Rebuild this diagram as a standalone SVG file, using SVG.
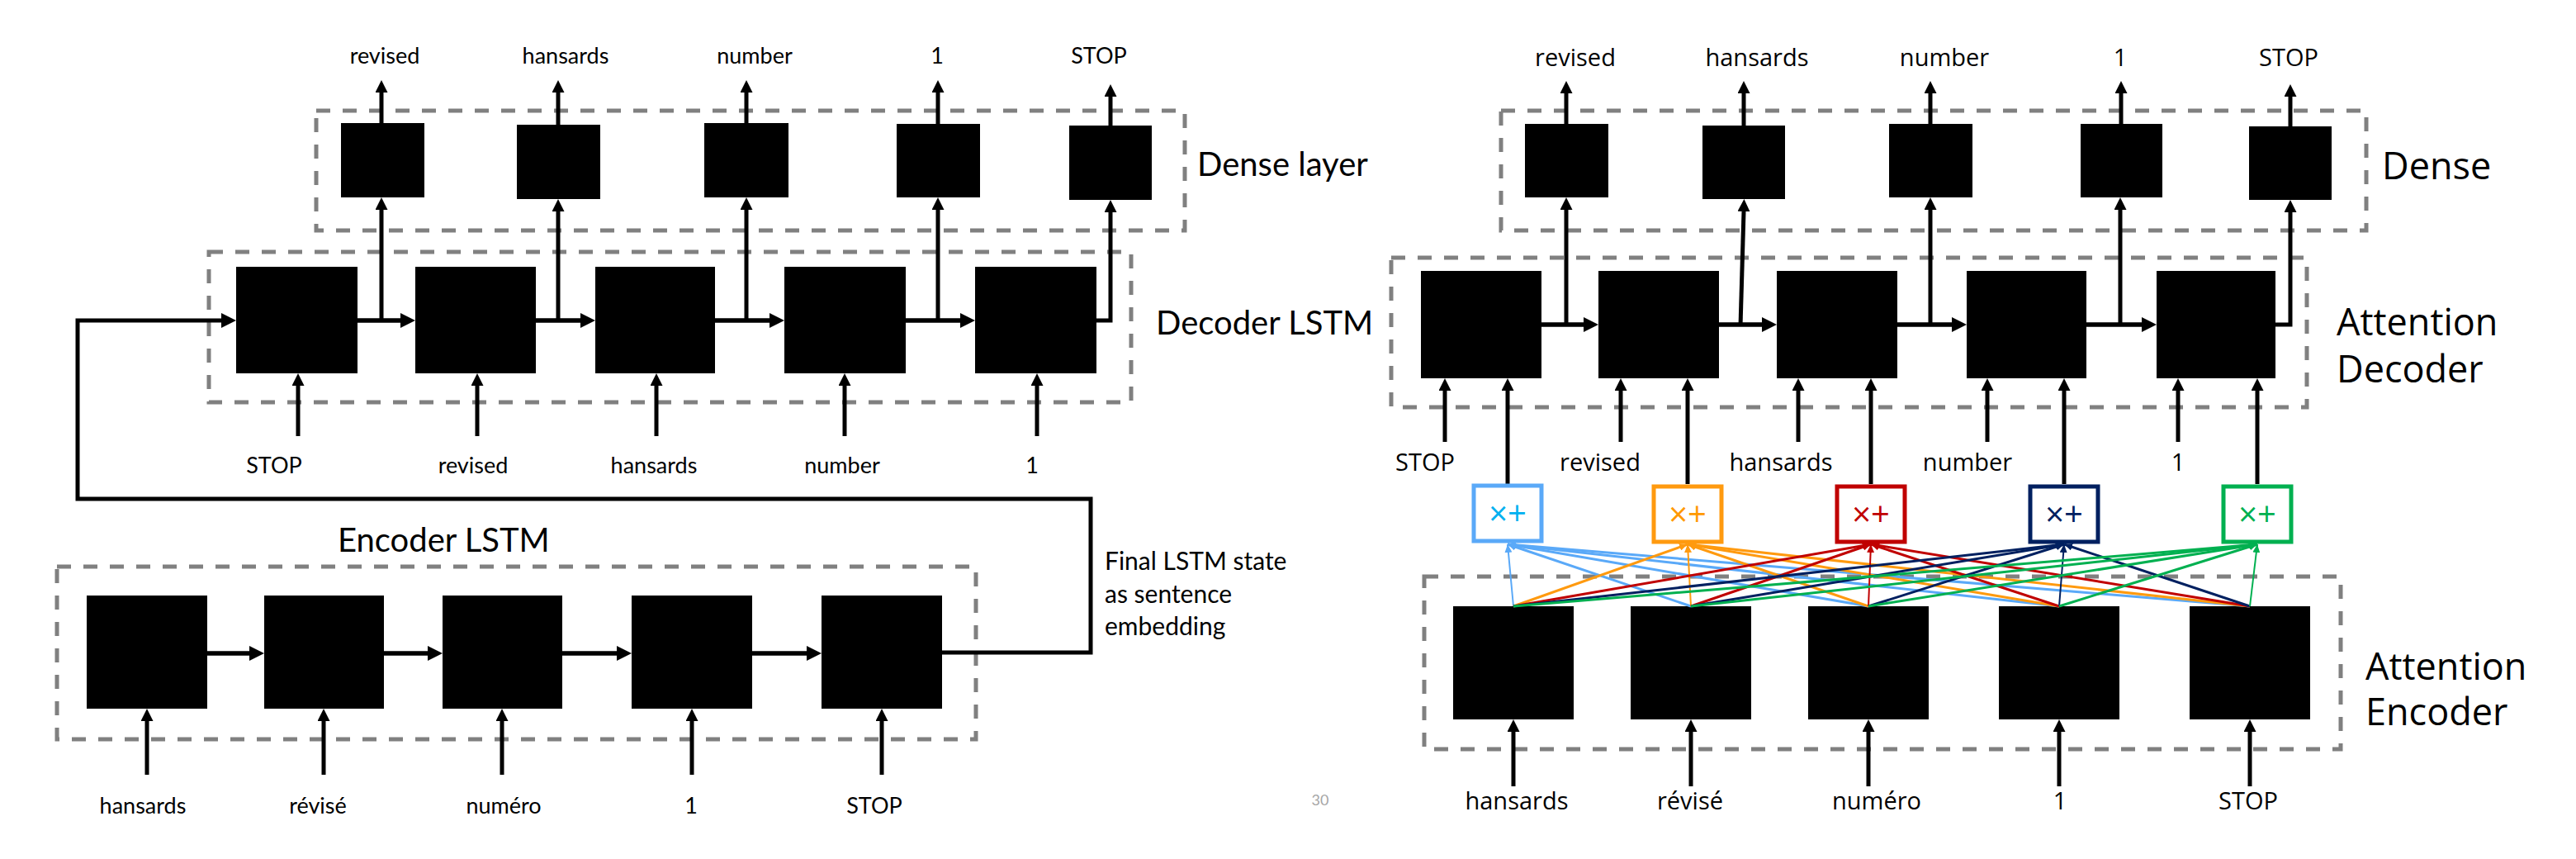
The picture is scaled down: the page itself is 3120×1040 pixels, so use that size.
<svg xmlns="http://www.w3.org/2000/svg" width="3120" height="1040" viewBox="0 0 3120 1040">
<style>
.blk{fill:#000}
.grp{fill:none;stroke:#808080;stroke-width:5;stroke-dasharray:17 15}
.ln{stroke:#000;stroke-width:5;fill:none}
.thk{stroke:#000;stroke-width:5.5;fill:none}
.ls{font-family:Lato,"Open Sans",sans-serif;font-size:27px;fill:#000;text-anchor:middle}
.lb{font-family:Lato,"Open Sans",sans-serif;font-size:40px;fill:#000}
.note{font-family:Lato,"Open Sans",sans-serif;font-size:30px;fill:#000}
.rs{font-family:"Open Sans",sans-serif;font-size:29px;fill:#000;text-anchor:middle}
.rb{font-family:"Open Sans",sans-serif;font-size:45px;fill:#000}
.att{fill:#fff;stroke-width:5}
.op{font-family:"Open Sans",sans-serif;font-size:40px;text-anchor:middle}
.pg{font-family:Lato,"Open Sans",sans-serif;font-size:18px;fill:#A6A6A6;text-anchor:middle}
</style>
<defs>
<marker id="va" markerUnits="userSpaceOnUse" markerWidth="15" markerHeight="15" refX="0" refY="7.5" orient="auto"><path d="M0,0 L15,7.5 L0,15 z" fill="#000"/></marker>
<marker id="ha" markerUnits="userSpaceOnUse" markerWidth="18" markerHeight="18" refX="0" refY="9" orient="auto"><path d="M0,0 L18,9 L0,18 z" fill="#000"/></marker>
<marker id="m0" markerUnits="userSpaceOnUse" markerWidth="10" markerHeight="9" refX="10" refY="4.5" orient="auto"><path d="M0,0 L10,4.5 L0,9 z" fill="#5AA9F8"/></marker>
<marker id="m1" markerUnits="userSpaceOnUse" markerWidth="10" markerHeight="9" refX="10" refY="4.5" orient="auto"><path d="M0,0 L10,4.5 L0,9 z" fill="#FF9A0F"/></marker>
<marker id="m2" markerUnits="userSpaceOnUse" markerWidth="10" markerHeight="9" refX="10" refY="4.5" orient="auto"><path d="M0,0 L10,4.5 L0,9 z" fill="#C00000"/></marker>
<marker id="m3" markerUnits="userSpaceOnUse" markerWidth="10" markerHeight="9" refX="10" refY="4.5" orient="auto"><path d="M0,0 L10,4.5 L0,9 z" fill="#002060"/></marker>
<marker id="m4" markerUnits="userSpaceOnUse" markerWidth="10" markerHeight="9" refX="10" refY="4.5" orient="auto"><path d="M0,0 L10,4.5 L0,9 z" fill="#00B050"/></marker>
</defs>
<rect width="3120" height="1040" fill="#fff"/>

<!-- ===== LEFT: groups ===== -->
<g id="left-dense-group"><rect class="grp" x="383" y="134" width="1052" height="145"/><text class="lb" x="1450" y="213">Dense layer</text></g>
<g id="left-decoder-group"><rect class="grp" x="253" y="305" width="1117" height="182"/><text class="lb" x="1400" y="405">Decoder LSTM</text></g>
<g id="left-encoder-group"><rect class="grp" x="69" y="686" width="1113" height="209"/><text class="lb" x="409" y="668">Encoder LSTM</text></g>

<!-- left dense nodes -->
<g id="ld1"><rect class="blk" x="413" y="149" width="101" height="90"/></g>
<g id="ld2"><rect class="blk" x="626" y="151" width="101" height="90"/></g>
<g id="ld3"><rect class="blk" x="853" y="149" width="102" height="90"/></g>
<g id="ld4"><rect class="blk" x="1086" y="150" width="101" height="89"/></g>
<g id="ld5"><rect class="blk" x="1295" y="152" width="100" height="90"/></g>
<!-- left decoder nodes -->
<g id="lc1"><rect class="blk" x="286" y="323" width="147" height="129"/></g>
<g id="lc2"><rect class="blk" x="503" y="323" width="146" height="129"/></g>
<g id="lc3"><rect class="blk" x="721" y="323" width="145" height="129"/></g>
<g id="lc4"><rect class="blk" x="950" y="323" width="147" height="129"/></g>
<g id="lc5"><rect class="blk" x="1181" y="323" width="147" height="129"/></g>
<!-- left encoder nodes -->
<g id="le1"><rect class="blk" x="105" y="721" width="146" height="137"/></g>
<g id="le2"><rect class="blk" x="320" y="721" width="145" height="137"/></g>
<g id="le3"><rect class="blk" x="536" y="721" width="145" height="137"/></g>
<g id="le4"><rect class="blk" x="765" y="721" width="146" height="137"/></g>
<g id="le5"><rect class="blk" x="995" y="721" width="146" height="137"/></g>

<!-- left labels -->
<g id="left-labels">
<text class="ls" x="466" y="77">revised</text>
<text class="ls" x="685" y="77">hansards</text>
<text class="ls" x="914" y="77">number</text>
<text class="ls" x="1135" y="77">1</text>
<text class="ls" x="1331" y="77">STOP</text>
<text class="ls" x="332" y="573">STOP</text>
<text class="ls" x="573" y="573">revised</text>
<text class="ls" x="792" y="573">hansards</text>
<text class="ls" x="1020" y="573">number</text>
<text class="ls" x="1250" y="573">1</text>
<text class="ls" x="173" y="985">hansards</text>
<text class="ls" x="385" y="985">révisé</text>
<text class="ls" x="610" y="985">numéro</text>
<text class="ls" x="837" y="985">1</text>
<text class="ls" x="1059" y="985">STOP</text>
<text class="note" x="1338" y="690">Final LSTM state</text>
<text class="note" x="1338" y="730">as sentence</text>
<text class="note" x="1338" y="769">embedding</text>
</g>

<!-- ===== RIGHT: groups ===== -->
<g id="right-dense-group"><rect class="grp" x="1818" y="134" width="1048" height="145"/><text class="rb" x="2885" y="217">Dense</text></g>
<g id="right-decoder-group"><rect class="grp" x="1685" y="312" width="1109" height="181"/><text class="rb" x="2830" y="406">Attention</text><text class="rb" x="2830" y="463">Decoder</text></g>
<g id="right-encoder-group"><rect class="grp" x="1725" y="698" width="1110" height="209"/><text class="rb" x="2865" y="823">Attention</text><text class="rb" x="2865" y="878">Encoder</text></g>

<g id="rd1"><rect class="blk" x="1847" y="150" width="101" height="89"/></g>
<g id="rd2"><rect class="blk" x="2062" y="152" width="100" height="89"/></g>
<g id="rd3"><rect class="blk" x="2288" y="150" width="101" height="89"/></g>
<g id="rd4"><rect class="blk" x="2520" y="150" width="99" height="89"/></g>
<g id="rd5"><rect class="blk" x="2724" y="153" width="100" height="89"/></g>

<g id="rc1"><rect class="blk" x="1721" y="328" width="146" height="130"/></g>
<g id="rc2"><rect class="blk" x="1936" y="328" width="146" height="130"/></g>
<g id="rc3"><rect class="blk" x="2152" y="328" width="146" height="130"/></g>
<g id="rc4"><rect class="blk" x="2382" y="328" width="145" height="130"/></g>
<g id="rc5"><rect class="blk" x="2612" y="328" width="144" height="130"/></g>

<g id="re1"><rect class="blk" x="1760" y="734" width="146" height="137"/></g>
<g id="re2"><rect class="blk" x="1975" y="734" width="146" height="137"/></g>
<g id="re3"><rect class="blk" x="2190" y="734" width="146" height="137"/></g>
<g id="re4"><rect class="blk" x="2421" y="734" width="146" height="137"/></g>
<g id="re5"><rect class="blk" x="2652" y="734" width="146" height="137"/></g>

<g id="right-labels">
<text class="rs" x="1908" y="80">revised</text>
<text class="rs" x="2128" y="80">hansards</text>
<text class="rs" x="2355" y="80">number</text>
<text class="rs" x="2568" y="80">1</text>
<text class="rs" x="2772" y="80">STOP</text>
<text class="rs" x="1726" y="570">STOP</text>
<text class="rs" x="1938" y="570">revised</text>
<text class="rs" x="2157" y="570">hansards</text>
<text class="rs" x="2383" y="570">number</text>
<text class="rs" x="2638" y="570">1</text>
<text class="rs" x="1837" y="980">hansards</text>
<text class="rs" x="2047" y="980">révisé</text>
<text class="rs" x="2273" y="980">numéro</text>
<text class="rs" x="2495" y="980">1</text>
<text class="rs" x="2723" y="980">STOP</text>
</g>
<text class="pg" x="1599" y="975">30</text>

<!-- ===== CONNECTORS ===== -->
<g id="connectors">
<!-- left dense outputs -->
<line class="ln" x1="462" y1="149" x2="462" y2="112" marker-end="url(#va)"/>
<line class="ln" x1="676" y1="151" x2="676" y2="112" marker-end="url(#va)"/>
<line class="ln" x1="904" y1="149" x2="904" y2="112" marker-end="url(#va)"/>
<line class="ln" x1="1136" y1="150" x2="1136" y2="112" marker-end="url(#va)"/>
<line class="ln" x1="1345" y1="152" x2="1345" y2="117" marker-end="url(#va)"/>
<!-- left decoder to dense -->
<line class="ln" x1="462" y1="390" x2="462" y2="254" marker-end="url(#va)"/>
<line class="ln" x1="676" y1="390" x2="676" y2="256" marker-end="url(#va)"/>
<line class="ln" x1="904" y1="390" x2="904" y2="254" marker-end="url(#va)"/>
<line class="ln" x1="1136" y1="390" x2="1136" y2="254" marker-end="url(#va)"/>
<path class="ln" d="M1328,388 H1345 V257" marker-end="url(#va)"/>
<!-- left decoder recurrence -->
<line class="thk" x1="433" y1="388" x2="485" y2="388" marker-end="url(#ha)"/>
<line class="thk" x1="649" y1="388" x2="703" y2="388" marker-end="url(#ha)"/>
<line class="thk" x1="866" y1="388" x2="932" y2="388" marker-end="url(#ha)"/>
<line class="thk" x1="1097" y1="388" x2="1163" y2="388" marker-end="url(#ha)"/>
<!-- left decoder inputs -->
<line class="ln" x1="361" y1="528" x2="361" y2="467" marker-end="url(#va)"/>
<line class="ln" x1="578" y1="528" x2="578" y2="467" marker-end="url(#va)"/>
<line class="ln" x1="795" y1="528" x2="795" y2="467" marker-end="url(#va)"/>
<line class="ln" x1="1023" y1="528" x2="1023" y2="467" marker-end="url(#va)"/>
<line class="ln" x1="1256" y1="528" x2="1256" y2="467" marker-end="url(#va)"/>
<!-- sentence embedding feedback -->
<path class="ln" d="M1141,790 H1321 V604 H94 V388 H268" stroke-linejoin="miter" marker-end="url(#ha)"/>
<!-- left encoder recurrence -->
<line class="thk" x1="251" y1="791" x2="302" y2="791" marker-end="url(#ha)"/>
<line class="thk" x1="465" y1="791" x2="518" y2="791" marker-end="url(#ha)"/>
<line class="thk" x1="681" y1="791" x2="747" y2="791" marker-end="url(#ha)"/>
<line class="thk" x1="911" y1="791" x2="977" y2="791" marker-end="url(#ha)"/>
<!-- left encoder inputs -->
<line class="ln" x1="178" y1="938" x2="178" y2="873" marker-end="url(#va)"/>
<line class="ln" x1="392" y1="938" x2="392" y2="873" marker-end="url(#va)"/>
<line class="ln" x1="608" y1="938" x2="608" y2="873" marker-end="url(#va)"/>
<line class="ln" x1="838" y1="938" x2="838" y2="873" marker-end="url(#va)"/>
<line class="ln" x1="1068" y1="938" x2="1068" y2="873" marker-end="url(#va)"/>

<!-- right dense outputs -->
<line class="ln" x1="1897" y1="150" x2="1897" y2="113" marker-end="url(#va)"/>
<line class="ln" x1="2112" y1="152" x2="2112" y2="113" marker-end="url(#va)"/>
<line class="ln" x1="2338" y1="150" x2="2338" y2="113" marker-end="url(#va)"/>
<line class="ln" x1="2569" y1="150" x2="2569" y2="113" marker-end="url(#va)"/>
<line class="ln" x1="2774" y1="153" x2="2774" y2="117" marker-end="url(#va)"/>
<!-- right decoder to dense -->
<line class="ln" x1="1897" y1="395" x2="1897" y2="254" marker-end="url(#va)"/>
<line class="ln" x1="2108" y1="395" x2="2112" y2="256" marker-end="url(#va)"/>
<line class="ln" x1="2338" y1="395" x2="2338" y2="254" marker-end="url(#va)"/>
<line class="ln" x1="2568" y1="395" x2="2568" y2="254" marker-end="url(#va)"/>
<path class="ln" d="M2756,393 H2774 V257" marker-end="url(#va)"/>
<!-- right decoder recurrence -->
<line class="thk" x1="1867" y1="393" x2="1918" y2="393" marker-end="url(#ha)"/>
<line class="thk" x1="2082" y1="393" x2="2134" y2="393" marker-end="url(#ha)"/>
<line class="thk" x1="2298" y1="393" x2="2364" y2="393" marker-end="url(#ha)"/>
<line class="thk" x1="2527" y1="393" x2="2594" y2="393" marker-end="url(#ha)"/>
<!-- right decoder word inputs -->
<line class="ln" x1="1750" y1="535" x2="1750" y2="473" marker-end="url(#va)"/>
<line class="ln" x1="1963" y1="535" x2="1963" y2="473" marker-end="url(#va)"/>
<line class="ln" x1="2178" y1="535" x2="2178" y2="473" marker-end="url(#va)"/>
<line class="ln" x1="2407" y1="535" x2="2407" y2="473" marker-end="url(#va)"/>
<line class="ln" x1="2638" y1="535" x2="2638" y2="473" marker-end="url(#va)"/>
<!-- attention context to decoder -->
<line class="ln" x1="1826" y1="586" x2="1826" y2="473" marker-end="url(#va)"/>
<line class="ln" x1="2044" y1="586" x2="2044" y2="473" marker-end="url(#va)"/>
<line class="ln" x1="2266" y1="586" x2="2266" y2="473" marker-end="url(#va)"/>
<line class="ln" x1="2500" y1="586" x2="2500" y2="473" marker-end="url(#va)"/>
<line class="ln" x1="2734" y1="586" x2="2734" y2="473" marker-end="url(#va)"/>
<!-- right encoder inputs -->
<line class="ln" x1="1833" y1="952" x2="1833" y2="886" marker-end="url(#va)"/>
<line class="ln" x1="2048" y1="952" x2="2048" y2="886" marker-end="url(#va)"/>
<line class="ln" x1="2263" y1="952" x2="2263" y2="886" marker-end="url(#va)"/>
<line class="ln" x1="2494" y1="952" x2="2494" y2="886" marker-end="url(#va)"/>
<line class="ln" x1="2725" y1="952" x2="2725" y2="886" marker-end="url(#va)"/>

<!-- attention fan -->
<g stroke="#5AA9F8" stroke-width="3" fill="none">
<line x1="1833" y1="734" x2="1826" y2="659" stroke-width="2" marker-end="url(#m0)"/>
<line x1="2048" y1="734" x2="1826" y2="659" marker-end="url(#m0)"/>
<line x1="2263" y1="734" x2="1826" y2="659" marker-end="url(#m0)"/>
<line x1="2494" y1="734" x2="1826" y2="659" marker-end="url(#m0)"/>
<line x1="2725" y1="734" x2="1826" y2="659" marker-end="url(#m0)"/>
</g>
<g stroke="#FF9A0F" stroke-width="3" fill="none">
<line x1="1833" y1="734" x2="2044" y2="659" marker-end="url(#m1)"/>
<line x1="2048" y1="734" x2="2044" y2="659" stroke-width="2" marker-end="url(#m1)"/>
<line x1="2263" y1="734" x2="2044" y2="659" marker-end="url(#m1)"/>
<line x1="2494" y1="734" x2="2044" y2="659" marker-end="url(#m1)"/>
<line x1="2725" y1="734" x2="2044" y2="659" marker-end="url(#m1)"/>
</g>
<g stroke="#C00000" stroke-width="3" fill="none">
<line x1="1833" y1="734" x2="2266" y2="659" marker-end="url(#m2)"/>
<line x1="2048" y1="734" x2="2266" y2="659" marker-end="url(#m2)"/>
<line x1="2263" y1="734" x2="2266" y2="659" stroke-width="2" marker-end="url(#m2)"/>
<line x1="2494" y1="734" x2="2266" y2="659" marker-end="url(#m2)"/>
<line x1="2725" y1="734" x2="2266" y2="659" marker-end="url(#m2)"/>
</g>
<g stroke="#002060" stroke-width="3" fill="none">
<line x1="1833" y1="734" x2="2500" y2="659" marker-end="url(#m3)"/>
<line x1="2048" y1="734" x2="2500" y2="659" marker-end="url(#m3)"/>
<line x1="2263" y1="734" x2="2500" y2="659" marker-end="url(#m3)"/>
<line x1="2494" y1="734" x2="2500" y2="659" stroke-width="2" marker-end="url(#m3)"/>
<line x1="2725" y1="734" x2="2500" y2="659" marker-end="url(#m3)"/>
</g>
<g stroke="#00B050" stroke-width="3" fill="none">
<line x1="1833" y1="734" x2="2734" y2="659" marker-end="url(#m4)"/>
<line x1="2048" y1="734" x2="2734" y2="659" marker-end="url(#m4)"/>
<line x1="2263" y1="734" x2="2734" y2="659" marker-end="url(#m4)"/>
<line x1="2494" y1="734" x2="2734" y2="659" marker-end="url(#m4)"/>
<line x1="2725" y1="734" x2="2734" y2="659" stroke-width="2" marker-end="url(#m4)"/>
</g>
</g>

<!-- attention nodes -->
<g id="att1"><rect class="att" x="1785" y="588" width="82" height="67" stroke="#5AA9F8"/><text class="op" x="1826" y="636" fill="#00B0F0">×+</text></g>
<g id="att2"><rect class="att" x="2003" y="589" width="82" height="67" stroke="#FF9A0F"/><text class="op" x="2044" y="637" fill="#FF9900">×+</text></g>
<g id="att3"><rect class="att" x="2225" y="589" width="82" height="67" stroke="#C00000"/><text class="op" x="2266" y="637" fill="#C00000">×+</text></g>
<g id="att4"><rect class="att" x="2459" y="589" width="82" height="67" stroke="#002060"/><text class="op" x="2500" y="637" fill="#002060">×+</text></g>
<g id="att5"><rect class="att" x="2693" y="589" width="82" height="67" stroke="#00B050"/><text class="op" x="2734" y="637" fill="#00B050">×+</text></g>
</svg>
